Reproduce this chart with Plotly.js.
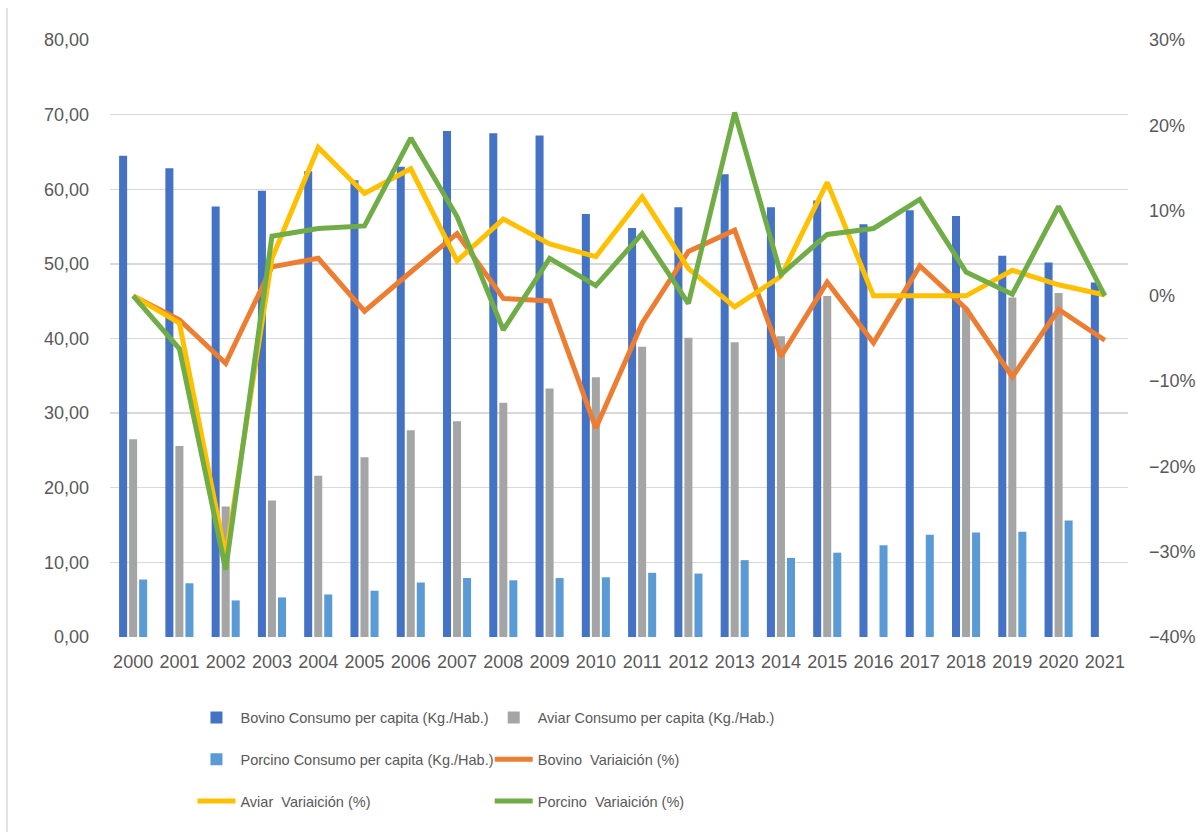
<!DOCTYPE html>
<html>
<head>
<meta charset="utf-8">
<script src="https://cdn.plot.ly/plotly-3.0.1.min.js"></script>
<style>html,body{margin:0;padding:0;background:#fff;}#chart{width:1196px;height:832px;}</style>
</head>
<body>
<div id="chart"></div>
<script>
const years = ["2000","2001","2002","2003","2004","2005","2006","2007","2008","2009","2010","2011","2012","2013","2014","2015","2016","2017","2018","2019","2020","2021"];
const bovinoConsumo = [64.5,62.8,57.7,59.8,62.4,61.2,63.0,67.8,67.5,67.2,56.7,54.8,57.6,62.0,57.6,58.5,55.3,57.2,56.4,51.1,50.2,47.5];
const aviarConsumo = [26.5,25.6,17.5,18.3,21.6,24.1,27.7,28.9,31.4,33.3,34.8,38.9,40.1,39.5,40.3,45.7,null,null,44.0,45.5,46.1,null];
const porcinoConsumo = [7.7,7.2,4.9,5.3,5.7,6.2,7.3,7.9,7.6,7.9,8.0,8.6,8.5,10.3,10.6,11.3,12.3,13.7,14.0,14.1,15.6,null];
const bovinoVar = [0,-2.8,-7.9,3.4,4.4,-1.8,2.8,7.3,-0.3,-0.6,-15.5,-3.2,5.2,7.7,-7.1,1.6,-5.5,3.5,-1.5,-9.5,-1.6,-5.2];
const aviarVar = [0,-3.2,-30.6,4.4,17.4,12.0,14.9,4.1,9.0,6.1,4.6,11.6,3.2,-1.3,2.3,13.3,0,0,0,3.0,1.3,0.1];
const porcinoVar = [0,-6.2,-32.1,7.0,7.9,8.2,18.5,9.3,-4.0,4.4,1.2,7.3,-0.9,21.5,2.5,7.2,7.9,11.3,2.8,0.2,10.5,0];
const names = {
  bovinoC: "Bovino Consumo per capita (Kg./Hab.)",
  aviarC: "Aviar Consumo per capita (Kg./Hab.)",
  porcinoC: "Porcino Consumo per capita (Kg./Hab.)",
  bovinoV: "Bovino  Variaición (%)",
  aviarV: "Aviar  Variaición (%)",
  porcinoV: "Porcino  Variaición (%)"
};

const font = "Liberation Sans, Arial, sans-serif";
const txt = "#595959";

const traces = [
  {type:"bar", x:years, y:bovinoConsumo, name:names.bovinoC, marker:{color:"#4472C4"}, legend:"legend", legendgroup:"a", legendrank:1},
  {type:"bar", x:years, y:aviarConsumo, name:names.aviarC, marker:{color:"#A5A5A5"}, legend:"legend2", legendgroup:"b", legendrank:1},
  {type:"bar", x:years, y:porcinoConsumo, name:names.porcinoC, marker:{color:"#5B9BD5"}, legend:"legend", legendgroup:"c", legendrank:2},
  {type:"scatter", mode:"lines", x:years, y:bovinoVar, yaxis:"y2", name:names.bovinoV, line:{color:"#ED7D31", width:5}, legend:"legend2", legendgroup:"d", legendrank:2},
  {type:"scatter", mode:"lines", x:years, y:aviarVar, yaxis:"y2", name:names.aviarV, line:{color:"#FFC000", width:5}, legend:"legend", legendgroup:"e", legendrank:3},
  {type:"scatter", mode:"lines", x:years, y:porcinoVar, yaxis:"y2", name:names.porcinoV, line:{color:"#70AD47", width:5}, legend:"legend2", legendgroup:"f", legendrank:3}
];

const legendBase = {orientation:"v", yanchor:"top", xanchor:"left", y:-0.108, font:{family:font, size:14.5, color:txt}, tracegroupgap:20, bgcolor:"rgba(0,0,0,0)", itemwidth:38};

const layout = {
  width:1196, height:832,
  margin:{l:110, r:68, t:40, b:195},
  paper_bgcolor:"#fff", plot_bgcolor:"#fff",
  separators:",.",
  barmode:"group", bargap:0.35, bargroupgap:0.2,
  font:{family:font, color:txt},
  xaxis:{type:"category", tickfont:{family:font, size:18, color:txt}, showgrid:false, zeroline:false, showline:false, ticks:"", ticklabelstandoff:12, fixedrange:true},
  yaxis:{range:[0,80], dtick:10, tickformat:".2f", tickfont:{family:font, size:18, color:txt}, gridcolor:"#D9D9D9", gridwidth:1.3, zeroline:false, showline:false, ticks:"", ticklabelstandoff:20},
  yaxis2:{range:[-40,30], dtick:10, overlaying:"y", side:"right", ticksuffix:"%", tickfont:{family:font, size:18, color:txt}, showgrid:false, zeroline:false, showline:false, ticks:"", ticklabelstandoff:20},
  legend:Object.assign({}, legendBase, {x:0.081}),
  legend2:Object.assign({}, legendBase, {x:0.373}),
  shapes:[
    {type:"line", xref:"paper", yref:"paper", x0:-0.1012, x1:-0.1012, y0:1.0536, y1:-0.33, line:{color:"#D9D9D9", width:1.5}}
  ]
};

Plotly.newPlot("chart", traces, layout, {displayModeBar:false, staticPlot:true});
</script>
</body>
</html>
